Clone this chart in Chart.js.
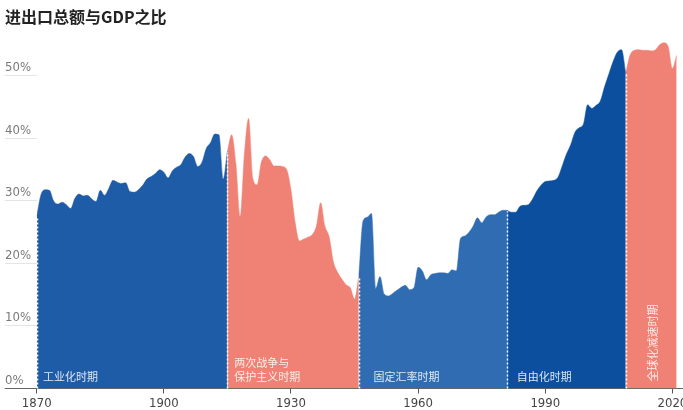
<!DOCTYPE html>
<html>
<head>
<meta charset="utf-8">
<title>进出口总额与GDP之比</title>
<script src="https://cdn.jsdelivr.net/npm/chart.js@4.4.1/dist/chart.umd.min.js"></script>
<style>
  html, body { margin: 0; padding: 0; background: #ffffff; }
  #wrap { width: 683px; height: 410px; }
</style>
</head>
<body>
<div id="wrap"><canvas id="c" width="683" height="410"></canvas></div>
<script>
// Trade (exports + imports) as a share of world GDP, %, one value per year.
// Each period shares its first and last year with the neighbouring period.
const periodNames = ['工业化时期', '两次战争与\n保护主义时期', '固定汇率时期', '自由化时期', '全球化减速时期'];
const periodStart = [1870, 1915, 1946, 1981, 2009];

// 1870–1915
const shareIndustrial = [
  27.5, 31.0, 31.8, 31.7, 30.0, 29.5, 29.8, 29.4, 28.8, 30.4,
  31.1, 30.8, 30.9, 30.3, 29.9, 31.7, 30.9, 32.0, 33.3, 33.0,
  32.8, 32.9, 31.5, 31.4, 31.8, 32.5, 33.5, 33.9, 34.4, 35.0,
  34.6, 33.7, 34.8, 35.4, 35.8, 37.0, 37.6, 37.1, 35.5, 36.2,
  38.4, 39.3, 40.7, 40.6, 33.5, 38.0
];
// 1915–1946
const shareWars = [
  38.0, 40.6, 36.0, 27.5, 37.5, 43.2, 33.6, 32.6, 36.2, 37.2,
  36.6, 35.6, 35.6, 35.5, 35.0, 31.8, 26.5, 23.6, 23.9, 24.2,
  24.6, 26.0, 29.7, 26.0, 24.3, 20.3, 18.6, 17.5, 16.6, 16.1,
  14.3, 18.0
];
// 1946–1981
const shareFixedRates = [
  18.0, 26.8, 27.4, 28.0, 16.0, 17.9, 15.1, 14.8, 15.2, 15.7,
  16.2, 16.5, 15.8, 16.1, 19.4, 18.8, 17.4, 18.2, 18.4, 18.5,
  18.5, 18.4, 19.0, 18.8, 24.0, 24.4, 25.0, 26.0, 27.3, 26.5,
  27.4, 27.8, 27.8, 28.2, 28.5, 28.5
];
// 1981–2009
const shareLiberal = [
  28.5, 28.2, 28.2, 29.1, 29.3, 29.4, 30.3, 31.6, 32.5, 33.1,
  33.2, 33.3, 33.8, 35.6, 37.5, 39.0, 41.0, 41.7, 42.3, 45.4,
  44.8, 45.3, 46.0, 48.3, 50.3, 52.3, 53.8, 54.2, 50.5
];
// 2009–2021
const shareSlowdown = [
  50.5, 53.3, 54.1, 54.2, 54.1, 54.1, 54.0, 54.2, 55.0, 55.3,
  54.7, 51.2, 53.3
];

const xTickYears = [1870, 1900, 1930, 1960, 1990, 2020];
const yTickValues = [0, 10, 20, 30, 40, 50];

const periodSeries = [shareIndustrial, shareWars, shareFixedRates, shareLiberal, shareSlowdown];
const periodColors = ['#1f5ca7', '#ef8274', '#2f6cb1', '#0c4f9f', '#ef8274'];

// label anchors (year along the x axis) and layout for each period caption
const captionLayout = [
  { year: 1871.5 },
  { year: 1916.6 },
  { year: 1949.5 },
  { year: 1983.3 },
  { year: 2015.3, vertical: true }
];

const axisFont = '"Liberation Sans Narrow", "DejaVu Sans Condensed", "Liberation Sans", sans-serif';
const cjkFont = '"Noto Sans CJK SC", "Noto Sans", sans-serif';

const datasets = periodSeries.map((vals, i) => ({
  label: periodNames[i],
  data: vals.map((v, k) => ({ x: periodStart[i] + k, y: v })),
  backgroundColor: periodColors[i],
  borderColor: periodColors[i],
  borderWidth: 0.5,
  fill: 'origin',
  pointRadius: 0,
  cubicInterpolationMode: 'monotone',
  tension: 0.4
}));

// dotted white separators at the start of every period, plus period captions
const periodDecor = {
  id: 'periodDecor',
  afterDatasetsDraw(chart) {
    const { ctx, scales: { x, y } } = chart;
    const base = y.getPixelForValue(0);
    ctx.save();
    ctx.strokeStyle = 'rgba(255,255,255,0.95)';
    ctx.lineWidth = 1.5;
    ctx.setLineDash([2, 2]);
    periodSeries.forEach((vals, i) => {
      const px = Math.round(x.getPixelForValue(periodStart[i])) + 0.5;
      ctx.beginPath();
      ctx.moveTo(px, base);
      ctx.lineTo(px, y.getPixelForValue(vals[0]) + 1);
      ctx.stroke();
    });
    ctx.setLineDash([]);
    ctx.fillStyle = 'rgba(255,255,255,0.85)';
    ctx.font = '11px ' + cjkFont;
    captionLayout.forEach((c, i) => {
      const px = x.getPixelForValue(c.year);
      const lines = periodNames[i].split('\n');
      if (c.vertical) {
        ctx.save();
        ctx.translate(px, base - 7);
        ctx.rotate(-Math.PI / 2);
        ctx.textAlign = 'left';
        ctx.textBaseline = 'middle';
        ctx.fillText(lines.join(''), 0, 0);
        ctx.restore();
      } else {
        ctx.textAlign = 'left';
        ctx.textBaseline = 'middle';
        lines.forEach((t, k) => {
          ctx.fillText(t, px, base - 11.5 - (lines.length - 1 - k) * 14);
        });
      }
    });
    ctx.restore();
  }
};

new Chart(document.getElementById('c'), {
  type: 'line',
  data: { datasets },
  options: {
    responsive: false,
    animation: false,
    events: [],
    layout: { padding: { left: 5, right: 0, top: 7, bottom: 0 } },
    plugins: {
      legend: { display: false },
      tooltip: { enabled: false },
      title: {
        display: true,
        text: '进出口总额与GDP之比',
        align: 'start',
        color: '#222222',
        font: { family: cjkFont, size: 16, weight: 'bold', lineHeight: 1.2 },
        padding: { top: 0, bottom: 6 }
      }
    },
    scales: {
      x: {
        type: 'linear',
        min: 1870,
        max: 2022.5,
        afterBuildTicks: s => { s.ticks = xTickYears.map(v => ({ value: v })); },
        afterFit: s => { s.height = 21.5; s.paddingLeft = 0; s.paddingRight = 0; },
        ticks: {
          callback: v => String(v),
          color: '#444444',
          font: { family: axisFont, size: 13 },
          padding: 2,
          maxRotation: 0,
          autoSkip: false
        },
        grid: { drawOnChartArea: false, drawTicks: true, tickLength: 5, color: '#555555' },
        border: { display: true, color: '#666666', width: 1 }
      },
      y: {
        min: 0,
        max: 57,
        afterBuildTicks: s => { s.ticks = yTickValues.map(v => ({ value: v })); },
        afterFit: s => { s.width = 31.7; s.paddingTop = 0; s.paddingBottom = 0; },
        ticks: {
          callback: v => v + '%',
          color: '#7a7a7a',
          font: { family: axisFont, size: 13 },
          crossAlign: 'far',
          labelOffset: -8,
          padding: 0
        },
        grid: {
          drawOnChartArea: false,
          drawTicks: true,
          tickLength: 32,
          color: c => (c.tick && c.tick.value === 0 ? '#666666' : '#e4e4e4')
        },
        border: { display: false }
      }
    }
  },
  plugins: [periodDecor]
});
</script>
</body>
</html>
